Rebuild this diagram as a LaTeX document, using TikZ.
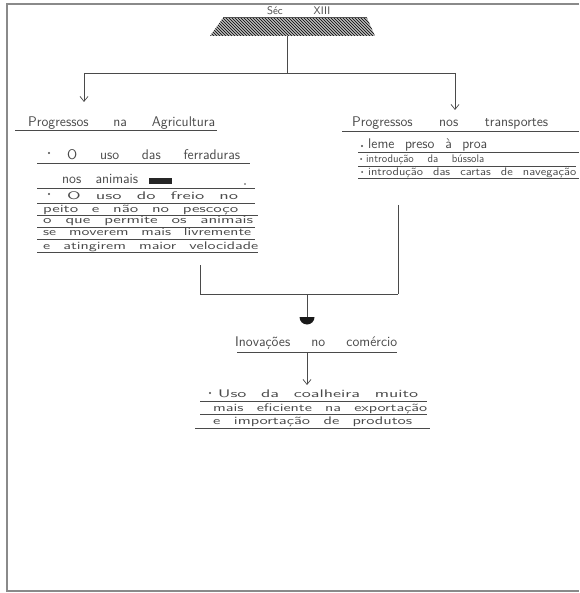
\documentclass[tikz,border=0pt]{standalone}
\usepackage{fontspec}
\usetikzlibrary{arrows.meta,patterns}
\definecolor{pencil}{HTML}{4A4A4A}
\definecolor{framec}{HTML}{8A8A8A}
\tikzset{
  hw/.style={anchor=base west, inner sep=0pt, text=pencil, font=\sffamily\fontsize{14}{15}\selectfont},
  hwt/.style={hw, font=\sffamily\fontsize{11}{12}\selectfont},
  ul/.style={draw=pencil, line width=0.7pt},
  conn/.style={draw=pencil, line width=0.8pt},
  openarrow/.style={conn, -{Straight Barb[length=5pt,width=8pt,line width=0.7pt]}},
}
\newcommand{\hwl}[2]{\makebox[#1pt][s]{#2}}
\newcommand{\hws}[2]{\resizebox{#1pt}{\height}{\spaceskip=0.8em\relax #2}}
\begin{document}
\begin{tikzpicture}[x=1pt,y=-1pt]
\useasboundingbox (0,0) rectangle (579,593);
\fill[white] (0,0) rectangle (579,593);
% frame
\draw[framec, line width=1.2pt] (579,4) -- (7,4) -- (7,591) -- (579,591);

% title
\node[hwt] (title) at (267,15) {\hwl{63}{Séc XIII}};
\draw[ul] (223,17) -- (367,17);
\fill[gray!55] (223,18) -- (367,18) -- (375,36) -- (210,36) -- cycle;
\fill[pattern=north west lines, pattern color=black] (223,18) -- (367,18) -- (375,36) -- (210,36) -- cycle;
\coordinate (tb) at (287,36);

% top connectors
\coordinate (tj) at (287,73);
\coordinate (lj) at (84,73);
\coordinate (rj) at (455,73);
\coordinate (la) at (84,102);
\coordinate (ra) at (455,110);
\draw[conn] (tb) -- (tj);
\draw[conn] (lj) -- (rj);
\draw[openarrow] (lj) -- (la);
\draw[openarrow] (rj) -- (ra);

% left heading
\node[hw] (lh) at (28,127) {\hwl{187}{Progressos na Agricultura}};
\draw[ul] (15,130) -- (217,130);

% left list
\fill[pencil] (49,153) circle (1.2);
\node[hw] (l1) at (67,160) {\hwl{173}{O uso das ferraduras}};
\draw[ul] (37,163) -- (250,163);
\node[hw] (l2) at (62,184) {\hwl{76}{nos animais}};
\fill[black!85] (149,178) rectangle (172,184);
\fill[pencil] (245,184) circle (0.8);
\draw[ul] (37,188) -- (255,188);
\fill[pencil] (49,194) circle (1.2);
\node[hwt] (l3) at (67,200) {\hws{171}{O uso do freio no}};
\draw[ul] (37,203) -- (255,203);
\node[hwt] (l4) at (43,212) {\hws{195}{peito e não no pescoço}};
\draw[ul] (37,215) -- (258,215);
\node[hwt] (l5) at (43,224) {\hws{210}{o que permite os animais}};
\draw[ul] (37,227) -- (255,227);
\node[hwt] (l6) at (43,236) {\hws{208}{se moverem mais livremente}};
\draw[ul] (37,239) -- (255,239);
\node[hwt] (l7) at (43,250) {\hws{215}{e atingirem maior velocidade}};
\draw[ul] (37,252) -- (258,252);

% right heading
\node[hw] (rh) at (352,127) {\hwl{196}{Progressos nos transportes}};
\draw[ul] (342,131) -- (579,131);

% right list
\fill[pencil] (362,146) circle (1.2);
\node[hw] (r1) at (368,149) {\hwl{119}{leme preso à proa}};
\draw[ul] (358,152) -- (579,152);
\fill[pencil] (361,159) circle (1);
\node[hwt] (r2) at (366,163) {\hwl{118}{introdução da bússola}};
\draw[ul] (358,166) -- (576,166);
\fill[pencil] (362,172) circle (1);
\node[hwt] (r3) at (368,176) {\hws{208}{introdução das cartas de navegação}};
\draw[ul] (358,178) -- (579,178);

% merge connectors
\coordinate (lb) at (200,265);
\coordinate (lc) at (200,294);
\coordinate (rb) at (398,205);
\coordinate (rc) at (398,294);
\coordinate (mc) at (307,294);
\coordinate (md) at (307,317);
\draw[conn] (lb) -- (lc) -- (rc);
\draw[conn] (rb) -- (rc);
\draw[conn] (mc) -- (md);
\fill[black!90] (314.5,317) arc (0:180:7.5) -- cycle;

% Inovacoes
\node[hw] (ih) at (235,346) {\hwl{162}{Inovações no comércio}};
\draw[ul] (237,352) -- (397,352);
\coordinate (is) at (307,353);
\coordinate (ie) at (307,385);
\draw[openarrow] (is) -- (ie);

% bottom list
\fill[pencil] (210,393) circle (1.2);
\node[hwt] (b1) at (218,397) {\hws{200}{Uso da coalheira muito}};
\draw[ul] (200,401) -- (427,401);
\node[hwt] (b2) at (213,411) {\hws{214}{mais eficiente na exportação}};
\draw[ul] (200,414) -- (427,414);
\node[hwt] (b3) at (213,424) {\hws{199}{e importação de produtos}};
\draw[ul] (195,428) -- (430,428);
\end{tikzpicture}
\end{document}
